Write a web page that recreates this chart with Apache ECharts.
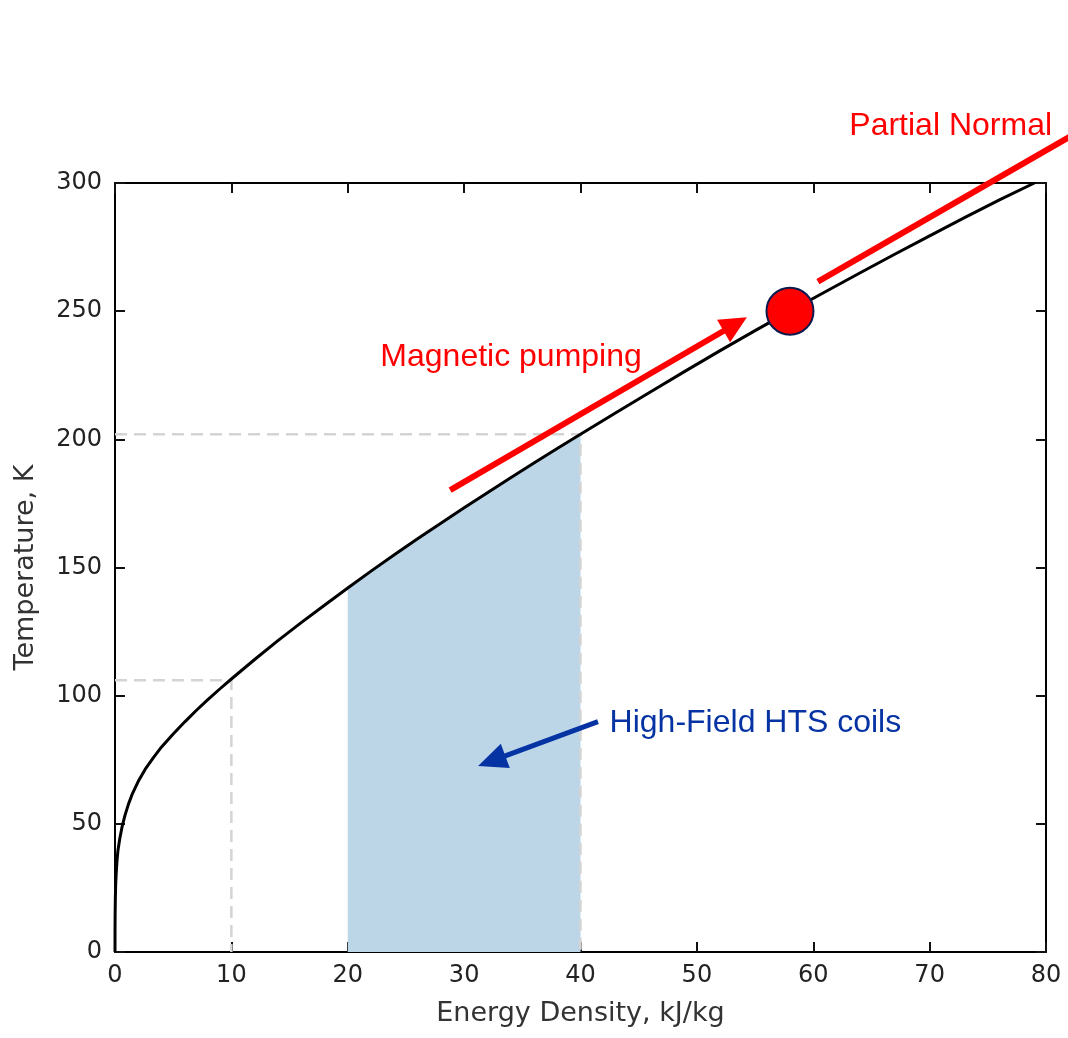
<!DOCTYPE html>
<html>
<head>
<meta charset="utf-8">
<script src="https://cdn.jsdelivr.net/npm/echarts@6/dist/echarts.min.js"></script>
<style>html,body{margin:0;padding:0;background:#fff;}#c{width:1068px;height:1038px;}</style>
</head>
<body>
<div id="c"></div>
<script>
// Curve: energy density (kJ/kg) vs temperature (K)
const curveX = [0, 0.003, 0.01, 0.03, 0.06, 0.1, 0.17, 0.25, 0.4, 0.6, 0.85, 1.15, 1.5, 2.0, 2.6, 3.3, 4, 5, 6, 7, 8, 9, 10, 12, 14, 16, 18, 20, 22, 24, 26, 28, 30, 32, 34, 36, 38, 40, 43, 46, 49, 52, 55, 58, 61, 64, 67, 70, 73, 76, 79];
const curveT = [0, 8, 14, 21, 26.5, 30.5, 35.5, 39.5, 44, 48.7, 53.2, 57.6, 61.8, 66.6, 71.3, 75.8, 80, 85.05, 89.8, 94.3, 98.55, 102.6, 106.5, 114.1, 121.45, 128.5, 135.3, 142, 148.6, 155, 161.2, 167.3, 173.3, 179.2, 185, 190.75, 196.4, 202, 210.3, 218.5, 226.6, 234.6, 242.4, 250, 257.5, 264.9, 272.2, 279.4, 286.5, 293.4, 300];

// shaded band (x range)
const bandX = [20, 40];

// dashed reference guides: [x, T]
const guide1 = [[0, 106], [10, 106], [10, 0]];
const guide2 = [[0, 202], [40, 202], [40, 0]];

// operating point
const pointXY = [58, 250];

// annotation arrows in data coordinates
const arrowPumping = { from: [28.8, 180.2], to: [54.3, 247.6] };
const lineNormal = { from: [60.4, 261.5], to: [82.9, 320.3] };
const arrowHTS = { from: [41.5, 89.9], to: [31.2, 72.6] };

// annotation texts (left anchor, data coordinates)
const txtNormal = { text: 'Partial Normal', at: [63.1, 322.2] };
const txtPumping = { text: 'Magnetic pumping', at: [22.8, 232.0] };
const txtHTS = { text: 'High-Field HTS coils', at: [42.5, 89.2] };

const xTicks = { min: 0, max: 80, interval: 10 };
const yTicks = { min: 0, max: 300, interval: 50 };

const curve = curveX.map((x, i) => [x, curveT[i]]);
const band = curve.filter(p => p[0] >= bandX[0] && p[0] <= bandX[1]);

const FONT = 'DejaVu Sans';
const axisCommon = {
  axisLine: { show: true, onZero: false, lineStyle: { color: '#000', width: 2 } },
  axisTick: { show: true, inside: true, length: 10, lineStyle: { color: '#111', width: 2 } },
  splitLine: { show: false }
};

const chart = echarts.init(document.getElementById('c'), null, { renderer: 'canvas' });
chart.setOption({
  animation: false,
  backgroundColor: '#fff',
  grid: { left: 115, right: 22, top: 183, bottom: 86, containLabel: false },
  xAxis: [
    Object.assign({
      type: 'value', min: xTicks.min, max: xTicks.max, interval: xTicks.interval, position: 'bottom',
      name: 'Energy Density, kJ/kg', nameLocation: 'middle', nameGap: 48,
      nameTextStyle: { fontFamily: FONT, fontSize: 27, color: '#333' },
      axisLabel: { fontFamily: FONT, fontSize: 24, color: '#222', margin: 12 }
    }, axisCommon),
    Object.assign({
      type: 'value', min: xTicks.min, max: xTicks.max, interval: xTicks.interval, position: 'top',
      axisLabel: { show: false }
    }, axisCommon)
  ],
  yAxis: [
    Object.assign({
      type: 'value', min: yTicks.min, max: yTicks.max, interval: yTicks.interval, position: 'left',
      name: 'Temperature, K', nameLocation: 'middle', nameGap: 76,
      nameTextStyle: { fontFamily: FONT, fontSize: 27, color: '#333' },
      axisLabel: { fontFamily: FONT, fontSize: 24, color: '#222', margin: 13 }
    }, axisCommon),
    Object.assign({
      type: 'value', min: yTicks.min, max: yTicks.max, interval: yTicks.interval, position: 'right',
      axisLabel: { show: false }
    }, axisCommon)
  ],
  series: [
    {
      type: 'line', data: band, symbol: 'none', lineStyle: { width: 0 },
      areaStyle: { color: '#bcd6e8', opacity: 1 }, z: 1
    },
    {
      type: 'line', data: guide1, symbol: 'none', z: 2,
      lineStyle: { color: '#d4d4d4', width: 2.5, type: [12, 7] }
    },
    {
      type: 'line', data: guide2, symbol: 'none', z: 2,
      lineStyle: { color: '#d4d4d4', width: 2.5, type: [12, 7] }
    },
    {
      type: 'line', data: curve, symbol: 'none', smooth: false, z: 3,
      lineStyle: { color: '#000', width: 3, join: 'round' }
    },
    {
      type: 'scatter', data: [pointXY], symbolSize: 47, z: 5,
      itemStyle: { color: '#ff0000', borderColor: '#0d1a4d', borderWidth: 2, opacity: 1 }
    }
  ]
});

function px(p) { return chart.convertToPixel({ gridIndex: 0 }, p); }

function arrowGraphic(a, color, width, head, headLen, headW) {
  const p0 = px(a.from), p1 = px(a.to);
  const dx = p1[0] - p0[0], dy = p1[1] - p0[1];
  const L = Math.sqrt(dx * dx + dy * dy);
  const ux = dx / L, uy = dy / L;
  const out = [];
  let lineEnd = p1;
  if (head) lineEnd = [p1[0] - ux * headLen * 0.6, p1[1] - uy * headLen * 0.6];
  out.push({
    type: 'line', z: 10,
    shape: { x1: p0[0], y1: p0[1], x2: lineEnd[0], y2: lineEnd[1] },
    style: { stroke: color, lineWidth: width }
  });
  if (head) {
    const bx = p1[0] - ux * headLen, by = p1[1] - uy * headLen;
    const nx = -uy, ny = ux;
    out.push({
      type: 'polygon', z: 10,
      shape: { points: [p1, [bx + nx * headW / 2, by + ny * headW / 2], [bx - nx * headW / 2, by - ny * headW / 2]] },
      style: { fill: color }
    });
  }
  return out;
}

function textGraphic(t, color) {
  const p = px(t.at);
  return {
    type: 'text', z: 10, x: p[0], y: p[1],
    style: { text: t.text, fill: color, font: '32px "Liberation Sans", Arial, sans-serif', textAlign: 'left', textVerticalAlign: 'middle' }
  };
}

const RED = '#ff0000', BLUE = '#0633a3';
let g = [];
g = g.concat(arrowGraphic(arrowPumping, RED, 6, true, 27, 26));
g = g.concat(arrowGraphic(lineNormal, RED, 6, false));
g = g.concat(arrowGraphic(arrowHTS, BLUE, 5, true, 29, 26));
g.push(textGraphic(txtNormal, RED));
g.push(textGraphic(txtPumping, RED));
g.push(textGraphic(txtHTS, BLUE));
chart.setOption({ graphic: g });
</script>
</body>
</html>
